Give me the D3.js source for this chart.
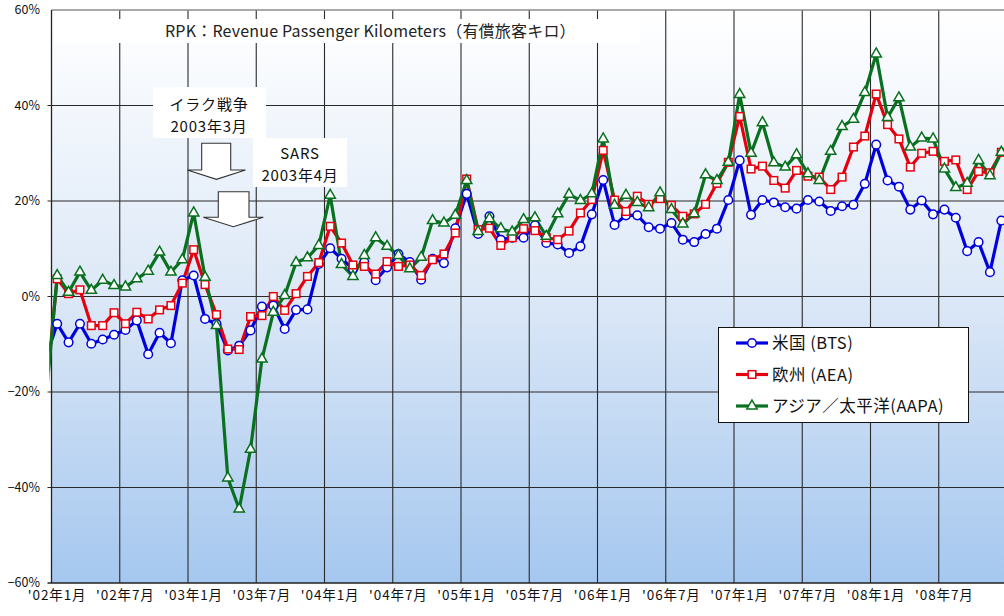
<!DOCTYPE html>
<html>
<head>
<meta charset="utf-8">
<script src="https://cdn.jsdelivr.net/npm/d3@7"></script>
<style>
	body { margin: 0; background: #fff; }
	svg { display: block; font-family: "Noto Sans CJK JP", "Noto Sans", sans-serif; }
</style>
</head>
<body>
<svg id="chart" width="1004" height="616"></svg>
<script>
// 前年同月比 (%), '01年12月 〜 '08年12月
const START = -1; // index of first value, 0 = '02年1月
const tickLabels = ["'02年1月", "'02年7月", "'03年1月", "'03年7月", "'04年1月", "'04年7月", "'05年1月",
	"'05年7月", "'06年1月", "'06年7月", "'07年1月", "'07年7月", "'08年1月", "'08年7月"];
const yTicks = [-60, -40, -20, 0, 20, 40, 60];

const bts = [-12.8,
	-5.7, -9.6, -5.7, -9.9, -9.0, -8.0, -7.0, -5.0, -12.1, -7.6, -9.8, 3.4,
	4.4, -4.7, -5.7, -11.3, -10.3, -7.1, -2.1, -1.9, -6.8, -2.8, -2.7, 6.8,
	10.1, 7.9, 5.8, 7.2, 3.4, 6.1, 8.9, 7.2, 3.5, 7.9, 7.0, 14.3,
	21.5, 13.1, 16.8, 11.9, 12.3, 12.3, 14.9, 11.2, 10.9, 9.1, 10.5, 17.2,
	24.4, 15.0, 17.0, 17.0, 14.5, 14.2, 15.4, 11.9, 11.4, 13.1, 14.2, 20.2,
	28.5, 17.1, 20.2, 19.7, 18.7, 18.4, 20.2, 19.9, 17.9, 18.9, 19.2, 23.6,
	31.8, 24.3, 23.0, 18.2, 20.1, 17.2, 18.2, 16.5, 9.5, 11.4, 5.1, 15.9];

const aea = [-20,
	3.7, 0.6, 1.4, -6.1, -6.1, -3.4, -5.7, -3.3, -4.7, -2.8, -1.9, 2.8,
	9.8, 2.5, -3.8, -11.0, -11.1, -4.2, -4.0, 0.0, -2.9, 0.6, 4.2, 7.1,
	14.7, 11.2, 6.6, 6.3, 4.7, 7.3, 6.3, 6.6, 4.4, 7.7, 8.9, 13.3,
	24.6, 14.0, 14.3, 10.7, 12.3, 14.2, 13.8, 12.3, 11.9, 13.7, 17.5, 20.3,
	30.6, 20.2, 17.8, 21.0, 19.3, 20.5, 19.1, 16.8, 17.3, 19.3, 23.7, 28.1,
	37.7, 26.7, 27.3, 24.3, 22.7, 26.4, 25.2, 25.0, 22.4, 25.0, 31.3, 33.6,
	42.4, 36.0, 33.0, 27.1, 30.0, 30.4, 28.3, 28.6, 22.4, 26.2, 25.9, 30.2];

const aapa = [-22,
	4.4, 0.9, 5.1, 1.3, 3.4, 2.3, 2.0, 3.7, 5.3, 9.3, 5.1, 7.7,
	17.5, 4.0, -6.1, -38.0, -44.5, -32.0, -13.1, -3.3, 0.2, 7.1, 8.1, 10.7,
	21.2, 6.7, 4.2, 8.6, 12.3, 10.5, 8.6, 5.8, 8.2, 15.9, 15.4, 17.0,
	24.3, 13.6, 16.3, 14.2, 13.5, 16.1, 16.5, 12.6, 17.3, 21.4, 20.1, 21.5,
	33.0, 19.1, 21.2, 19.7, 18.6, 21.7, 18.2, 15.2, 17.3, 25.5, 24.3, 28.1,
	42.3, 30.0, 36.4, 28.0, 27.1, 29.7, 25.7, 24.3, 30.4, 35.6, 37.1, 42.7,
	50.8, 37.5, 41.6, 31.3, 33.2, 33.0, 26.7, 22.8, 23.7, 28.5, 25.3, 30.2];

const series = [
	{ name: '米国 (BTS)', values: bts, color: '#0000dc', marker: 'circle' },
	{ name: '欧州 (AEA)', values: aea, color: '#e4000f', marker: 'square' },
	{ name: 'アジア／太平洋(AAPA)', values: aapa, color: '#08701f', marker: 'triangle' }
];

const TITLE = 'RPK：Revenue Passenger Kilometers（有償旅客キロ）';
const notes = [
	{ lines: ['イラク戦争', '2003年3月'], box: [153, 87, 113, 51], cx: 209, y0: 109.5 },
	{ lines: ['SARS', '2003年4月'], box: [253, 138, 94, 49], cx: 300, y0: 158.5 }
];

const PLOT = { left: 51.5, right: 1007, top: 10, bottom: 583 };
const LINE_W = 3.2;

const svg = d3.select('#chart');
const x = d3.scaleLinear().domain([-0.5, 83.5]).range([PLOT.left, PLOT.right]);
const y = d3.scaleLinear().domain([-60, 60]).range([PLOT.bottom, PLOT.top]);

const pct = d => (d < 0 ? '−' : '') + Math.abs(d) + '%';

function drawMarker(g, type, color) {
	if (type === 'circle') {
		g.append('circle').attr('r', 4.3);
	} else if (type === 'square') {
		g.append('rect').attr('x', -3.8).attr('y', -3.8).attr('width', 7.6).attr('height', 7.6);
	} else {
		g.append('path').attr('d', d3.symbol(d3.symbolTriangle, 46)());
	}
	g.selectAll('*').attr('fill', '#fff').attr('stroke', color).attr('stroke-width', 1.5);
}

function arrowPath(sx0, sx1, top, neck, hx0, hx1, tip) {
	const tx = (hx0 + hx1) / 2;
	return `M${sx0},${top}H${sx1}V${neck}H${hx1}L${tx},${tip}L${hx0},${neck}H${sx0}Z`;
}

function setup() {
	const defs = svg.append('defs');
	const grad = defs.append('linearGradient')
		.attr('id', 'bg').attr('x1', 0).attr('y1', 0).attr('x2', 0).attr('y2', 1);
	grad.append('stop').attr('offset', 0).attr('stop-color', '#ffffff');
	grad.append('stop').attr('offset', 0.5).attr('stop-color', '#dce8f7');
	grad.append('stop').attr('offset', 1).attr('stop-color', '#a5c7ef');

	// lines may run a little past the axis, markers may not
	defs.append('clipPath').attr('id', 'clip-line')
		.append('rect').attr('x', 49.5).attr('y', 0).attr('width', 1000).attr('height', 616);
	defs.append('clipPath').attr('id', 'clip-mark')
		.append('rect').attr('x', PLOT.left).attr('y', 0).attr('width', 1000).attr('height', 616);

	svg.append('rect')
		.attr('x', PLOT.left).attr('y', PLOT.top)
		.attr('width', PLOT.right - PLOT.left).attr('height', PLOT.bottom - PLOT.top)
		.attr('fill', 'url(#bg)');

	// grid
	const grid = svg.append('g').attr('stroke', '#2a2a2a').attr('stroke-width', 1.1);
	grid.selectAll('.hg')
		.data(yTicks.filter(d => d > -60 && d < 60))
		.enter().append('line')
		.attr('x1', PLOT.left - 4).attr('x2', PLOT.right)
		.attr('y1', d => y(d)).attr('y2', d => y(d));
	grid.selectAll('.vg')
		.data(d3.range(1, 14))
		.enter().append('line')
		.attr('x1', d => x(d * 6 - 0.5)).attr('x2', d => x(d * 6 - 0.5))
		.attr('y1', PLOT.top).attr('y2', PLOT.bottom);

	// frame
	svg.append('line')
		.attr('x1', PLOT.left).attr('x2', PLOT.right).attr('y1', PLOT.top).attr('y2', PLOT.top)
		.attr('stroke', '#8c8c8c').attr('stroke-width', 1.5);
	svg.append('line')
		.attr('x1', PLOT.left).attr('x2', PLOT.left).attr('y1', PLOT.top).attr('y2', PLOT.bottom)
		.attr('stroke', '#222').attr('stroke-width', 1.3);
	svg.append('line')
		.attr('x1', PLOT.left - 4).attr('x2', PLOT.right).attr('y1', PLOT.bottom).attr('y2', PLOT.bottom)
		.attr('stroke', '#222').attr('stroke-width', 1.3);

	// axes labels
	svg.append('g').selectAll('text')
		.data(yTicks)
		.enter().append('text')
		.attr('x', 40).attr('y', d => y(d) + 4.3)
		.attr('text-anchor', 'end')
		.attr('font-size', 12.5)
		.attr('fill', '#111')
		.text(pct);

	svg.append('g').selectAll('text')
		.data(tickLabels)
		.enter().append('text')
		.attr('x', (d, i) => x(i * 6))
		.attr('y', 600)
		.attr('text-anchor', 'middle')
		.attr('font-size', 13.5)
		.attr('letter-spacing', 0.9)
		.attr('fill', '#111')
		.text(d => d);

	// title
	svg.append('rect').attr('x', 54).attr('y', 19).attr('width', 586).attr('height', 24).attr('fill', '#fff');
	svg.append('text')
		.attr('x', 165).attr('y', 37)
		.attr('font-size', 16).attr('letter-spacing', 0.2).attr('fill', '#222')
		.text(TITLE);

	// annotations
	notes.forEach(n => {
		const g = svg.append('g');
		g.append('rect')
			.attr('x', n.box[0]).attr('y', n.box[1]).attr('width', n.box[2]).attr('height', n.box[3])
			.attr('fill', '#fff');
		g.selectAll('text')
			.data(n.lines)
			.enter().append('text')
			.attr('x', n.cx).attr('y', (d, i) => n.y0 + i * 22)
			.attr('text-anchor', 'middle')
			.attr('font-size', 15).attr('letter-spacing', 0.8).attr('fill', '#111')
			.text(d => d);
	});

	svg.append('path')
		.attr('d', arrowPath(201.7, 230.7, 143.3, 170, 187.3, 245.5, 179.3))
		.attr('fill', '#fff').attr('stroke', '#333').attr('stroke-width', 1.1);
	svg.append('path')
		.attr('d', arrowPath(218.3, 249, 191.7, 217.3, 203.3, 263.3, 226.7))
		.attr('fill', '#fff').attr('stroke', '#333').attr('stroke-width', 1.1);
}

function drawSeries() {
	const line = d3.line().x(d => x(d.i)).y(d => y(d.v));
	const lines = svg.append('g').attr('clip-path', 'url(#clip-line)');
	const marks = svg.append('g').attr('clip-path', 'url(#clip-mark)');

	series.forEach(s => {
		const pts = s.values.map((v, j) => ({ i: START + j, v }));
		lines.append('path')
			.datum(pts)
			.attr('d', line)
			.attr('fill', 'none')
			.attr('stroke', s.color)
			.attr('stroke-width', LINE_W)
			.attr('stroke-linejoin', 'round');
	});
	series.forEach(s => {
		const pts = s.values.map((v, j) => ({ i: START + j, v })).filter(d => d.i >= 0);
		marks.append('g').selectAll('g')
			.data(pts)
			.enter().append('g')
			.attr('transform', d => `translate(${x(d.i)},${y(d.v)})`)
			.each((d, i, n) => drawMarker(d3.select(n[i]), s.marker, s.color));
	});
}

function drawLegend() {
	const lg = svg.append('g').attr('transform', 'translate(718,327)');
	lg.append('rect')
		.attr('x', 0.5).attr('y', 0.5).attr('width', 250).attr('height', 95)
		.attr('fill', '#fff').attr('stroke', '#111').attr('stroke-width', 1);
	series.forEach((s, i) => {
		const row = lg.append('g').attr('transform', `translate(0,${16 + i * 31.5})`);
		row.append('line')
			.attr('x1', 18).attr('x2', 50)
			.attr('stroke', s.color).attr('stroke-width', LINE_W);
		drawMarker(row.append('g').attr('transform', 'translate(34,0)'), s.marker, s.color);
		row.append('text')
			.attr('x', 54).attr('y', 6)
			.attr('font-size', 16.5).attr('letter-spacing', 0.5).attr('fill', '#111')
			.text(s.name);
	});
}

setup();
drawSeries();
drawLegend();
</script>
</body>
</html>
